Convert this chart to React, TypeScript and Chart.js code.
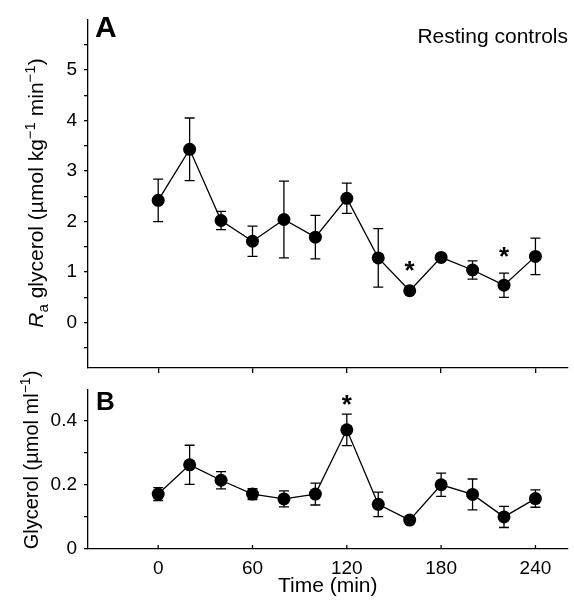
import React, { useEffect, useRef } from 'react';
import { Chart, registerables } from 'chart.js';

Chart.register(...registerables);

const FONT = '"Liberation Sans", Arial, Helvetica, sans-serif';

// Time points (min)
const times = [0, 20, 40, 60, 80, 100, 120, 140, 160, 180, 200, 220, 240];

// Panel A: Ra glycerol (µmol kg-1 min-1), mean and SE
const raValues = [2.42, 3.43, 2.02, 1.61, 2.04, 1.69, 2.46, 1.28, 0.63, 1.29, 1.04, 0.74, 1.31];
const raErrors = [0.42, 0.62, 0.18, 0.30, 0.76, 0.43, 0.30, 0.58, 0.04, 0.05, 0.18, 0.24, 0.36];
// asterisk positions (value units), null = not significant
const raStars: (number | null)[] = [null, null, null, null, null, null, null, null, 1.11, null, null, 1.39, null];

// Panel B: plasma glycerol (µmol ml-1), mean and SE
const glyValues = [0.171, 0.262, 0.214, 0.171, 0.156, 0.171, 0.371, 0.139, 0.09, 0.2, 0.17, 0.1, 0.157];
const glyErrors = [0.02, 0.061, 0.027, 0.017, 0.025, 0.034, 0.049, 0.038, 0.005, 0.036, 0.048, 0.033, 0.027];
const glyStars: (number | null)[] = [null, null, null, null, null, null, 0.463, null, null, null, null, null, null];

// Axis ticks
const xTicks = [0, 60, 120, 180, 240];
const raTicks = [-0.5, 0, 0.5, 1, 1.5, 2, 2.5, 3, 3.5, 4, 4.5, 5, 5.5];
const raLabels = [0, 1, 2, 3, 4, 5];
const glyTicks = [0, 0.1, 0.2, 0.3, 0.4];
const glyLabels = [0, 0.2, 0.4];

const X_MIN = -44.65;
const X_MAX = 260.4;

type Seg = { text: string; size: number; italic?: boolean; bold?: boolean; dy?: number };

function drawRich(ctx: CanvasRenderingContext2D, segs: Seg[], x: number, yCenter: number) {
  ctx.save();
  ctx.translate(x, yCenter);
  ctx.rotate(-Math.PI / 2);
  ctx.fillStyle = '#000';
  ctx.textBaseline = 'alphabetic';
  ctx.textAlign = 'left';
  const fontOf = (s: Seg) => `${s.italic ? 'italic ' : ''}${s.bold ? 'bold ' : ''}${s.size}px ${FONT}`;
  let total = 0;
  for (const s of segs) {
    ctx.font = fontOf(s);
    total += ctx.measureText(s.text).width;
  }
  let cx = -total / 2;
  for (const s of segs) {
    ctx.font = fontOf(s);
    ctx.fillText(s.text, cx, s.dy || 0);
    cx += ctx.measureText(s.text).width;
  }
  ctx.restore();
}

function makePlugin(errors: number[], stars: (number | null)[], extra: (chart: any) => void, inwardX: boolean) {
  return {
    id: 'custom-' + Math.random().toString(36).slice(2),
    beforeDatasetsDraw(chart: any) {
      const ctx = chart.ctx as CanvasRenderingContext2D;
      const xs = chart.scales.x;
      const ys = chart.scales.y;
      const ds = chart.data.datasets[0].data as { x: number; y: number }[];
      ctx.save();
      ctx.strokeStyle = '#000';
      ctx.lineWidth = 1.3;
      ds.forEach((p, i) => {
        const e = errors[i];
        const px = xs.getPixelForValue(p.x);
        const top = ys.getPixelForValue(p.y + e);
        const bot = ys.getPixelForValue(p.y - e);
        ctx.beginPath();
        ctx.moveTo(px, top);
        ctx.lineTo(px, bot);
        ctx.moveTo(px - 5, top);
        ctx.lineTo(px + 5, top);
        ctx.moveTo(px - 5, bot);
        ctx.lineTo(px + 5, bot);
        ctx.stroke();
      });
      if (inwardX) {
        const yb = chart.chartArea.bottom;
        xs.ticks.forEach((t: any) => {
          const px = xs.getPixelForValue(t.value);
          ctx.beginPath();
          ctx.moveTo(px, yb);
          ctx.lineTo(px, yb - 4);
          ctx.stroke();
        });
      }
      ctx.restore();
    },
    afterDatasetsDraw(chart: any) {
      const ctx = chart.ctx as CanvasRenderingContext2D;
      const xs = chart.scales.x;
      const ys = chart.scales.y;
      ctx.save();
      ctx.fillStyle = '#000';
      ctx.font = `bold 26px ${FONT}`;
      ctx.textAlign = 'center';
      ctx.textBaseline = 'alphabetic';
      const m = ctx.measureText('*');
      const asc = m.actualBoundingBoxAscent;
      const desc = m.actualBoundingBoxDescent;
      stars.forEach((s, i) => {
        if (s === null) return;
        const px = xs.getPixelForValue(times[i]);
        const cy = ys.getPixelForValue(s);
        ctx.fillText('*', px, cy + (asc - desc) / 2);
      });
      ctx.restore();
      extra(chart);
    },
  };
}

function baseDataset(values: number[]) {
  return {
    data: times.map((t, i) => ({ x: t, y: values[i] })),
    borderColor: '#000',
    borderWidth: 1.3,
    backgroundColor: '#000',
    pointRadius: 6.5,
    pointBackgroundColor: '#000',
    pointBorderColor: '#000',
    pointBorderWidth: 0,
    tension: 0,
    fill: false,
  };
}

const axisGrid = (tickLength: number, drawTicks = true) => ({
  drawOnChartArea: false,
  drawTicks,
  tickLength,
  color: '#000',
  lineWidth: 1.3,
});
const axisBorder = { display: true, color: '#000', width: 1.3 };

const BOT_TOP = 360;

const fitY = (s: any) => {
  s.width = 88;
  s.paddingTop = 0;
  s.paddingBottom = 0;
};
const fitX = (h: number) => (s: any) => {
  s.height = h;
  s.paddingLeft = 0;
  s.paddingRight = 0;
};

export default function App() {
  const topRef = useRef<HTMLCanvasElement>(null);
  const botRef = useRef<HTMLCanvasElement>(null);

  useEffect(() => {
    const topExtra = (chart: any) => {
      const ctx = chart.ctx as CanvasRenderingContext2D;
      ctx.save();
      ctx.fillStyle = '#000';
      ctx.textBaseline = 'alphabetic';
      ctx.font = `bold 30px ${FONT}`;
      ctx.textAlign = 'left';
      ctx.fillText('A', 95, 37);
      ctx.font = `21px ${FONT}`;
      ctx.textAlign = 'right';
      ctx.fillText('Resting controls', 568, 43);
      ctx.restore();
      drawRich(
        ctx,
        [
          { text: 'R', size: 21, italic: true },
          { text: 'a', size: 15, dy: 5 },
          { text: ' glycerol (\u00b5mol kg', size: 21 },
          { text: '\u22121', size: 15, dy: -8 },
          { text: ' min', size: 21 },
          { text: '\u22121', size: 15, dy: -8 },
          { text: ')', size: 21 },
        ],
        43,
        193
      );
    };
    const botExtra = (chart: any) => {
      const ctx = chart.ctx as CanvasRenderingContext2D;
      ctx.save();
      ctx.fillStyle = '#000';
      ctx.textBaseline = 'alphabetic';
      ctx.font = `bold 26px ${FONT}`;
      ctx.textAlign = 'left';
      ctx.fillText('B', 96, 410 - BOT_TOP);
      ctx.font = `21px ${FONT}`;
      ctx.textAlign = 'center';
      const ca = chart.chartArea;
      ctx.fillText('Time (min)', (ca.left + ca.right) / 2, 592 - BOT_TOP);
      ctx.restore();
      drawRich(
        ctx,
        [
          { text: 'Glycerol (\u00b5mol ml', size: 20 },
          { text: '\u22121', size: 14, dy: -8 },
          { text: ')', size: 20 },
        ],
        38,
        460 - BOT_TOP
      );
    };

    const top = new Chart(topRef.current as HTMLCanvasElement, {
      type: 'line',
      data: { datasets: [baseDataset(raValues) as any] },
      options: {
        responsive: false,
        animation: false,
        devicePixelRatio: 1,
        layout: { padding: { left: 0, right: 3, top: 20, bottom: 0 } },
        plugins: { legend: { display: false }, tooltip: { enabled: false } },
        scales: {
          x: {
            type: 'linear',
            min: X_MIN,
            max: X_MAX,
            afterBuildTicks: (s: any) => {
              s.ticks = xTicks.map((v) => ({ value: v }));
            },
            afterFit: fitX(12),
            grid: axisGrid(5) as any,
            border: axisBorder as any,
            ticks: { display: false },
          },
          y: {
            type: 'linear',
            min: -0.9,
            max: 5.99,
            afterBuildTicks: (s: any) => {
              s.ticks = raTicks.map((v) => ({ value: v }));
            },
            afterFit: fitY,
            grid: axisGrid(4) as any,
            border: axisBorder as any,
            ticks: {
              padding: 7,
              color: '#000',
              font: { family: FONT, size: 19 },
              callback: (v: any) => (raLabels.includes(Number(v)) ? String(v) : ''),
            },
          },
        },
      },
      plugins: [makePlugin(raErrors, raStars, topExtra, false)],
    });

    const bot = new Chart(botRef.current as HTMLCanvasElement, {
      type: 'line',
      data: { datasets: [baseDataset(glyValues) as any] },
      options: {
        responsive: false,
        animation: false,
        devicePixelRatio: 1,
        layout: { padding: { left: 0, right: 3, top: 390 - BOT_TOP, bottom: 0 } },
        plugins: { legend: { display: false }, tooltip: { enabled: false } },
        scales: {
          x: {
            type: 'linear',
            min: X_MIN,
            max: X_MAX,
            afterBuildTicks: (s: any) => {
              s.ticks = xTicks.map((v) => ({ value: v }));
            },
            afterFit: fitX(55),
            grid: axisGrid(0, false) as any,
            border: axisBorder as any,
            ticks: {
              padding: 8,
              color: '#000',
              maxRotation: 0,
              autoSkip: false,
              font: { family: FONT, size: 19 },
              callback: (v: any) => String(v),
            },
          },
          y: {
            type: 'linear',
            min: 0,
            max: 0.495,
            afterBuildTicks: (s: any) => {
              s.ticks = glyTicks.map((v) => ({ value: v }));
            },
            afterFit: fitY,
            grid: axisGrid(4) as any,
            border: axisBorder as any,
            ticks: {
              padding: 7,
              color: '#000',
              font: { family: FONT, size: 19 },
              callback: (v: any) => (glyLabels.includes(Number(v)) ? String(v) : ''),
            },
          },
        },
      },
      plugins: [makePlugin(glyErrors, glyStars, botExtra, true)],
    });

    return () => {
      top.destroy();
      bot.destroy();
    };
  }, []);

  return (
    <div style={{ position: 'absolute', left: 0, top: 0, width: 574, height: 604, background: '#fff' }}>
      <canvas ref={topRef} width={574} height={380} style={{ position: 'absolute', left: 0, top: 0, width: 574, height: 380 }} />
      <canvas
        ref={botRef}
        width={574}
        height={604 - BOT_TOP}
        style={{ position: 'absolute', left: 0, top: BOT_TOP, width: 574, height: 604 - BOT_TOP }}
      />
    </div>
  );
}
